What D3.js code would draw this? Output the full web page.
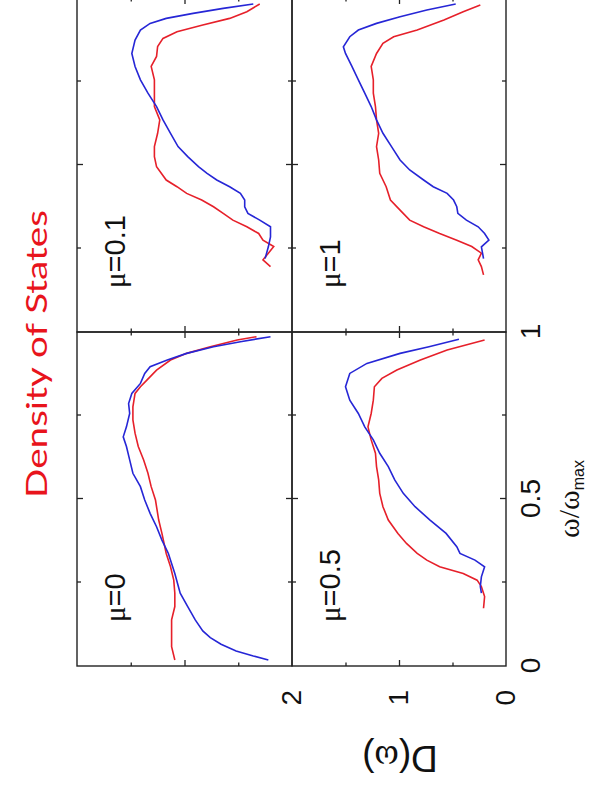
<!DOCTYPE html>
<html><head><meta charset="utf-8">
<script src="https://cdn.jsdelivr.net/npm/d3@7"></script>
<style>html,body{margin:0;padding:0;background:#fff;}svg{display:block;}</style>
</head><body>
<svg id="c" width="592" height="786"></svg>
<script>
// ---- data (omega/omega_max, D(omega)) ----
const omegaTickLabels = [0, 0.5, 1];
const dTickLabels = [0, 1, 2];
const omegaMajor = [0.5], omegaMinor = [0.25, 0.75];
const dMajor = [1], dMinor = [0.5, 1.5];
const muLabels = ["0", "0.1", "0.5", "1"];

const mu0Red = [[0.018,1.09],[0.058,1.12],[0.098,1.12],[0.138,1.12],[0.178,1.09],[0.218,1.09],[0.257,1.10],[0.297,1.13],[0.337,1.17],[0.397,1.21],[0.437,1.24],[0.497,1.27],[0.537,1.31],[0.577,1.34],[0.617,1.38],[0.657,1.43],[0.697,1.46],[0.737,1.48],[0.776,1.48],[0.816,1.46],[0.836,1.41],[0.856,1.35],[0.886,1.26],[0.916,1.13],[0.936,0.98],[0.956,0.76],[0.976,0.51],[0.986,0.33]];
const mu0Blue = [[0.018,0.22],[0.030,0.36],[0.045,0.52],[0.065,0.66],[0.085,0.76],[0.105,0.83],[0.138,0.90],[0.178,0.97],[0.218,1.04],[0.277,1.09],[0.337,1.15],[0.377,1.21],[0.417,1.26],[0.457,1.32],[0.497,1.37],[0.537,1.41],[0.577,1.48],[0.617,1.51],[0.657,1.54],[0.686,1.57],[0.716,1.54],[0.756,1.51],[0.786,1.52],[0.816,1.49],[0.846,1.41],[0.876,1.37],[0.896,1.32],[0.916,1.16],[0.936,0.98],[0.956,0.73],[0.971,0.48],[0.986,0.20]];

const mu01Red = [[0.196,0.20],[0.216,0.27],[0.236,0.22],[0.256,0.17],[0.275,0.27],[0.295,0.31],[0.315,0.42],[0.335,0.55],[0.355,0.64],[0.375,0.73],[0.395,0.84],[0.415,0.98],[0.435,1.07],[0.455,1.17],[0.495,1.26],[0.525,1.28],[0.555,1.28],[0.595,1.25],[0.635,1.23],[0.675,1.28],[0.715,1.28],[0.755,1.28],[0.795,1.31],[0.825,1.26],[0.855,1.25],[0.879,1.20],[0.899,1.07],[0.919,0.83],[0.939,0.58],[0.959,0.42],[0.982,0.30]];
const mu01Blue = [[0.22,0.25],[0.255,0.22],[0.285,0.20],[0.315,0.20],[0.335,0.30],[0.355,0.41],[0.375,0.44],[0.395,0.44],[0.415,0.48],[0.435,0.58],[0.455,0.70],[0.475,0.79],[0.495,0.87],[0.525,0.97],[0.555,1.06],[0.595,1.13],[0.635,1.20],[0.675,1.26],[0.715,1.34],[0.755,1.41],[0.795,1.46],[0.834,1.49],[0.874,1.46],[0.904,1.41],[0.924,1.32],[0.939,1.17],[0.954,0.92],[0.969,0.64],[0.982,0.36]];

const mu05Red = [[0.173,0.21],[0.208,0.20],[0.238,0.23],[0.257,0.27],[0.277,0.40],[0.297,0.62],[0.317,0.74],[0.337,0.83],[0.367,0.93],[0.397,1.01],[0.437,1.10],[0.477,1.15],[0.517,1.18],[0.557,1.19],[0.597,1.21],[0.637,1.22],[0.677,1.26],[0.716,1.29],[0.756,1.26],[0.796,1.24],[0.836,1.23],[0.861,1.16],[0.886,1.02],[0.916,0.80],[0.946,0.55],[0.976,0.20]];
const mu05Blue = [[0.218,0.23],[0.238,0.24],[0.267,0.23],[0.297,0.20],[0.317,0.29],[0.337,0.43],[0.357,0.46],[0.397,0.56],[0.437,0.71],[0.477,0.85],[0.517,0.96],[0.557,1.04],[0.597,1.10],[0.637,1.18],[0.677,1.24],[0.716,1.32],[0.756,1.38],[0.796,1.46],[0.836,1.50],[0.876,1.46],[0.906,1.30],[0.936,0.99],[0.956,0.72],[0.978,0.44]];

const mu1Red = [[0.171,0.21],[0.196,0.23],[0.216,0.26],[0.236,0.23],[0.256,0.32],[0.275,0.46],[0.295,0.62],[0.315,0.77],[0.335,0.90],[0.365,0.99],[0.395,1.08],[0.435,1.12],[0.475,1.18],[0.515,1.19],[0.555,1.21],[0.595,1.19],[0.635,1.21],[0.675,1.22],[0.715,1.24],[0.755,1.24],[0.795,1.26],[0.834,1.21],[0.864,1.15],[0.884,1.05],[0.904,0.83],[0.934,0.58],[0.959,0.40],[0.979,0.24]];
const mu1Blue = [[0.22,0.21],[0.255,0.23],[0.275,0.16],[0.295,0.20],[0.315,0.26],[0.335,0.37],[0.355,0.45],[0.375,0.46],[0.395,0.49],[0.415,0.55],[0.435,0.68],[0.455,0.77],[0.485,0.90],[0.515,0.99],[0.555,1.07],[0.595,1.15],[0.635,1.21],[0.675,1.26],[0.715,1.32],[0.755,1.38],[0.795,1.44],[0.834,1.50],[0.854,1.52],[0.884,1.46],[0.904,1.38],[0.924,1.21],[0.944,0.99],[0.964,0.74],[0.982,0.47]];

// ---- layout (drawn in landscape, then rotated a quarter turn) ----
const RED = "#e6202a", BLUE = "#2626d6", INK = "#222";
const SANS = "'Liberation Sans', Arial, sans-serif";
const SERIF = "'Liberation Serif', 'Times New Roman', serif";

const svg = d3.select("#c");
const g = svg.append("g").attr("transform", "translate(0,786) rotate(-90)");

const xL = d3.scaleLinear().domain([0, 1]).range([120, 454]);
const xR = d3.scaleLinear().domain([0, 1]).range([454, 788]);
const yT = d3.scaleLinear().domain([0, 2]).range([292, 77]);
const yB = d3.scaleLinear().domain([0, 2]).range([506, 292]);

const panels = [
  {x: xL, y: yT, mu: muLabels[0], red: mu0Red, blue: mu0Blue},
  {x: xR, y: yT, mu: muLabels[1], red: mu01Red, blue: mu01Blue},
  {x: xL, y: yB, mu: muLabels[2], red: mu05Red, blue: mu05Blue},
  {x: xR, y: yB, mu: muLabels[3], red: mu1Red, blue: mu1Blue}
];

function tickAxis(gen, vals, size) {
  return gen.tickValues(vals).tickSize(-size).tickFormat("");
}

panels.forEach(p => {
  const pg = g.append("g");
  const x0 = p.x(0), x1 = p.x(1), y0 = p.y(0), y2 = p.y(2);
  [[omegaMinor, 4], [omegaMajor, 6]].forEach(([v, s]) => {
    pg.append("g").attr("transform", `translate(0,${y0})`).call(tickAxis(d3.axisBottom(p.x), v, s));
    pg.append("g").attr("transform", `translate(0,${y2})`).call(tickAxis(d3.axisTop(p.x), v, s));
  });
  [[dMinor, 3.5], [dMajor, 6]].forEach(([v, s]) => {
    pg.append("g").attr("transform", `translate(${x0},0)`).call(tickAxis(d3.axisLeft(p.y), v, s));
    pg.append("g").attr("transform", `translate(${x1},0)`).call(tickAxis(d3.axisRight(p.y), v, s));
  });
  pg.selectAll(".domain").remove();
  pg.selectAll(".tick line").attr("stroke", INK).attr("stroke-width", 1.3);
  pg.append("rect").attr("x", x0).attr("y", y2).attr("width", x1 - x0).attr("height", y0 - y2)
    .attr("fill", "none").attr("stroke", INK).attr("stroke-width", 1.4);
  const line = d3.line().x(d => p.x(d[0])).y(d => p.y(d[1]));
  pg.append("path").datum(p.red).attr("d", line).attr("fill", "none").attr("stroke", RED).attr("stroke-width", 1.6);
  pg.append("path").datum(p.blue).attr("d", line).attr("fill", "none").attr("stroke", BLUE).attr("stroke-width", 1.6);
  const t = pg.append("text").attr("x", x0 + 44).attr("y", y2 + 48)
    .attr("font-family", SANS).attr("font-size", 29).attr("fill", "#111");
  t.append("tspan").attr("font-family", SERIF).text("\u03bc");
  t.append("tspan").text("=" + p.mu);
});

const ax = g.append("g").attr("transform", `translate(0,${yB(0)})`)
  .call(d3.axisBottom(xL).tickValues(omegaTickLabels).tickSize(0).tickPadding(14).tickFormat(d3.format("~g")));
const ay = g.append("g").attr("transform", `translate(${xL(0)},0)`)
  .call(d3.axisLeft(yB).tickValues(dTickLabels).tickSize(0).tickPadding(24).tickFormat(d3.format("~g")));
[ax, ay].forEach(a => {
  a.select(".domain").remove();
  a.selectAll("text").attr("font-family", SANS).attr("font-size", 28).attr("fill", "#111");
});

const xt = g.append("text").attr("x", xL(0.5)).attr("y", 579).attr("text-anchor", "middle")
  .attr("font-family", SERIF).attr("font-size", 30).attr("fill", "#111");
xt.append("tspan").text("\u03c9/\u03c9");
xt.append("tspan").attr("font-family", SANS).attr("font-size", 16).attr("dy", 5).text("max");

const yt = g.append("text").attr("transform", "translate(40,400) rotate(-90)").attr("text-anchor", "middle")
  .attr("font-family", SANS).attr("font-size", 37).attr("fill", "#111");
yt.append("tspan").text("D(");
yt.append("tspan").attr("font-family", SERIF).text("\u03c9");
yt.append("tspan").text(")");

g.append("text").attr("x", 432).attr("y", 47).attr("text-anchor", "middle")
  .attr("font-family", "'Comic Sans MS', Lato, 'Open Sans', sans-serif").attr("font-size", 29)
  .attr("fill", "#e8141c").attr("textLength", 288).attr("lengthAdjust", "spacingAndGlyphs")
  .text("Density of States");
</script>
</body></html>
